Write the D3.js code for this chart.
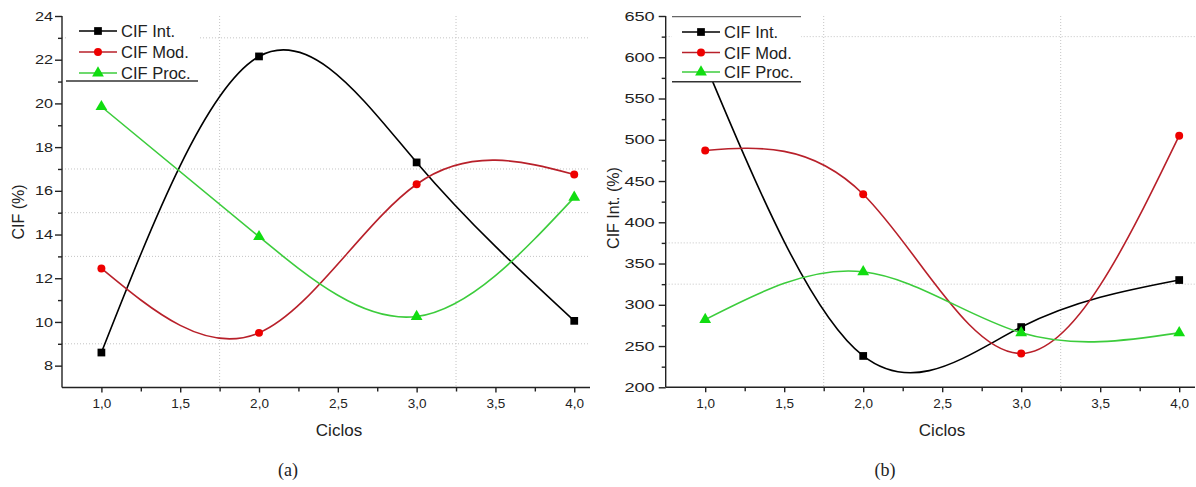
<!DOCTYPE html>
<html><head><meta charset="utf-8">
<script src="https://cdn.jsdelivr.net/npm/d3@7"></script>
<style>
body{margin:0;background:#fff;}
svg{display:block;}
text{font-family:"Liberation Sans",Arial,sans-serif;fill:#222;}
</style></head>
<body>
<svg id="chart" width="1196" height="487"></svg>
<script>
// ---- data ----
const ciclos = [1, 2, 3, 4];
const seriesNames = ["CIF Int.", "CIF Mod.", "CIF Proc."];
// panel (a): CIF (%)
const aInt  = [8.6, 22.15, 17.3, 10.05];
const aMod  = [12.45, 9.5, 16.3, 16.75];
const aProc = [19.85, 13.9, 10.25, 15.7];
// panel (b): CIF Int. (%)
const bInt  = [592, 238, 273, 330];
const bMod  = [487, 434, 241, 505];
const bProc = [282, 340, 266, 266];
const xTicks = [1.0, 1.5, 2.0, 2.5, 3.0, 3.5, 4.0];
const xMinor = [1.25, 1.75, 2.25, 2.75, 3.25, 3.75];
const aYTicks = [8, 10, 12, 14, 16, 18, 20, 22, 24];
const aYMinor = [9, 11, 13, 15, 17, 19, 21, 23];
const bYTicks = [200, 250, 300, 350, 400, 450, 500, 550, 600, 650];
const bYMinor = [225, 275, 325, 375, 425, 475, 525, 575, 625];
const aGridX = [1.75, 3.25], aGridY = [23, 17, 15, 13, 9];
const bGridX = [1.75, 3.25], bGridY = [625, 375, 325];

const svg = d3.select("#chart");
const lineCol = ["#000000", "#b8202a", "#3ccc3c"];
const markCol = ["#000000", "#ee0000", "#11dd11"];
const symbols = [d3.symbolSquare, d3.symbolCircle, d3.symbolTriangle];
const symSize = [60, 50, 60];
const fmt = v => d3.format(".1f")(v).replace(".", ",");

function panel(cfg) {
  const g = svg.append("g");
  const x = d3.scaleLinear().domain([0.75, 4.1]).range([cfg.x0, cfg.x1]);
  const y = d3.scaleLinear().domain(cfg.yDomain).range([cfg.yBottom, cfg.yTop]);

  // grid
  g.selectAll(".gx").data(cfg.gridX).join("line")
    .attr("x1", d => x(d)).attr("x2", d => x(d))
    .attr("y1", cfg.yTop).attr("y2", cfg.yBottom)
    .attr("stroke", "#c4c4c4").attr("stroke-width", 1).attr("stroke-dasharray", "1,2");
  g.selectAll(".gy").data(cfg.gridY).join("line")
    .attr("x1", cfg.x0).attr("x2", cfg.x1)
    .attr("y1", d => y(d)).attr("y2", d => y(d))
    .attr("stroke", "#c4c4c4").attr("stroke-width", 1).attr("stroke-dasharray", "1,2");

  // curves
  const line = d3.line().x((d, i) => x(ciclos[i])).y(d => y(d)).curve(d3.curveNatural);
  cfg.series.forEach((s, k) => {
    g.append("path").attr("d", line(s)).attr("fill", "none")
      .attr("stroke", lineCol[k]).attr("stroke-width", 1.6);
  });
  cfg.series.forEach((s, k) => {
    g.selectAll(null).data(s).join("path")
      .attr("d", d3.symbol().type(symbols[k]).size(symSize[k]))
      .attr("transform", (d, i) => `translate(${x(ciclos[i])},${y(d)})`)
      .attr("fill", markCol[k]);
  });

  // axes
  const ax = g.append("g").attr("transform", `translate(0,${cfg.yBottom})`)
    .call(d3.axisBottom(x).tickValues(xTicks).tickFormat(fmt).tickSize(5).tickPadding(6));
  g.append("g").attr("transform", `translate(0,${cfg.yBottom})`)
    .call(d3.axisBottom(x).tickValues(xMinor).tickFormat("").tickSize(4))
    .call(s => s.select(".domain").remove());
  ax.select(".domain").attr("d", `M${cfg.x0},0H${cfg.x1}`);
  ax.selectAll("text").attr("font-size", 13.5).attr("fill", "#222")
    .style("font-family", "'Liberation Sans',Arial,sans-serif");

  const ay = g.append("g").attr("transform", `translate(${cfg.x0},0)`)
    .call(d3.axisLeft(y).tickValues(cfg.yTicks).tickSize(7).tickPadding(0));
  g.append("g").attr("transform", `translate(${cfg.x0},0)`)
    .call(d3.axisLeft(y).tickValues(cfg.yMinor).tickFormat("").tickSize(4))
    .call(s => s.select(".domain").remove());
  ay.select(".domain").attr("d", `M0,${cfg.yTop}V${cfg.yBottom}`);
  ay.selectAll("text").attr("font-size", 13).attr("fill", "#222")
    .attr("x", -cfg.yLabGap / cfg.yScaleX)
    .attr("transform", `scale(${cfg.yScaleX},1)`)
    .style("font-family", "'Liberation Sans',Arial,sans-serif");
  g.selectAll(".domain, .tick line").attr("stroke", "#222").attr("stroke-width", 1.4);

  // axis titles
  g.append("text").attr("x", cfg.xTitleX).attr("y", 436).attr("text-anchor", "middle")
    .attr("font-size", 17).text("Ciclos");
  g.append("text").attr("transform", `translate(${cfg.yTitleX},${cfg.yTitleY}) rotate(-90)`)
    .attr("text-anchor", "middle").attr("font-size", 16).text(cfg.yTitle);

  // legend
  const L = cfg.legend;
  g.append("rect").attr("x", L.x0).attr("y", L.y0).attr("width", L.x1 - L.x0).attr("height", L.y1 - L.y0)
    .attr("fill", "#fff");
  if (L.top) g.append("line").attr("x1", L.x0).attr("x2", L.x1).attr("y1", L.y0).attr("y2", L.y0)
    .attr("stroke", "#666").attr("stroke-width", 1.2);
  g.append("line").attr("x1", L.x0).attr("x2", L.x1).attr("y1", L.y1).attr("y2", L.y1)
    .attr("stroke", "#333").attr("stroke-width", 1.5);
  seriesNames.forEach((n, k) => {
    const yy = L.rows[k];
    g.append("line").attr("x1", L.lx).attr("x2", L.lx + 38).attr("y1", yy).attr("y2", yy)
      .attr("stroke", lineCol[k]).attr("stroke-width", 1.6);
    g.append("path").attr("d", d3.symbol().type(symbols[k]).size(symSize[k])())
      .attr("transform", `translate(${L.lx + 19},${yy})`).attr("fill", markCol[k]);
    g.append("text").attr("x", L.lx + 42).attr("y", yy + 6).attr("font-size", 16.5).text(n);
  });

  // caption
  svg.append("text").attr("x", cfg.capX).attr("y", 476).attr("text-anchor", "middle")
    .attr("font-size", 18).style("font-family", "'Liberation Serif','Times New Roman',serif")
    .text(cfg.caption);
}

panel({
  x0: 62, x1: 590, yTop: 16, yBottom: 387.5, yDomain: [7, 24],
  yTicks: aYTicks, yMinor: aYMinor, gridX: aGridX, gridY: aGridY,
  series: [aInt, aMod, aProc], yScaleX: 1.25, yLabGap: 9,
  xTitleX: 339, yTitleX: 24, yTitleY: 212, yTitle: "CIF (%)",
  legend: {x0: 66, x1: 198, y0: 14, y1: 81, top: false, lx: 79, rows: [31, 52, 73]},
  capX: 288, caption: "(a)"
});
panel({
  x0: 665.7, x1: 1195, yTop: 16, yBottom: 387.3, yDomain: [200, 650],
  yTicks: bYTicks, yMinor: bYMinor, gridX: bGridX, gridY: bGridY,
  series: [bInt, bMod, bProc], yScaleX: 1.4, yLabGap: 11,
  xTitleX: 942, yTitleX: 619, yTitleY: 208, yTitle: "CIF Int. (%)",
  legend: {x0: 672, x1: 801, y0: 16.7, y1: 81.7, top: true, lx: 682, rows: [32, 52.5, 72]},
  capX: 885, caption: "(b)"
});
</script>
</body></html>
